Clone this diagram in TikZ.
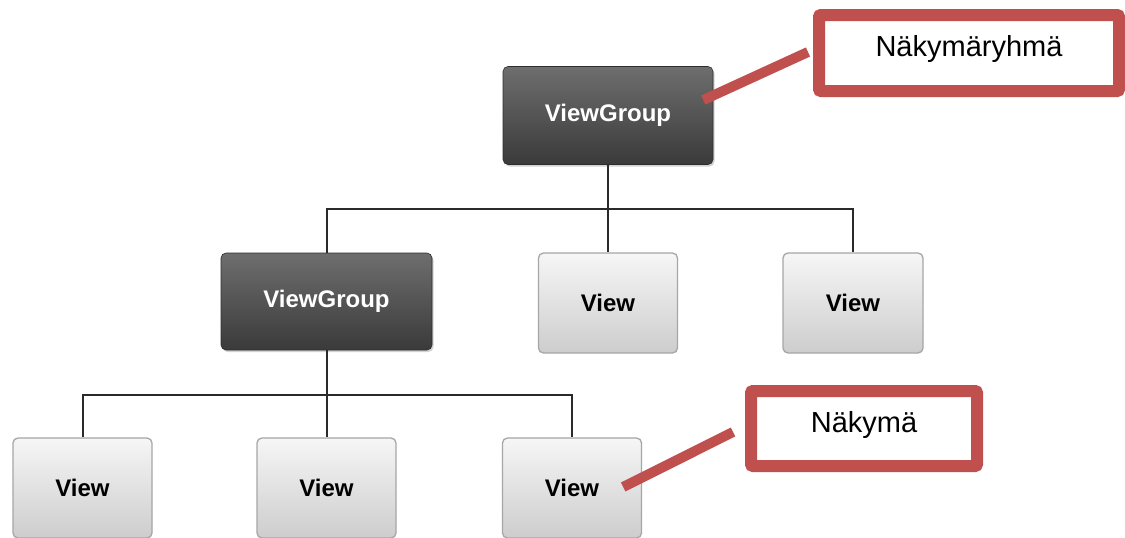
\documentclass[tikz,border=0pt]{standalone}
\usepackage{fontspec}
\setmainfont{Liberation Sans}
\usetikzlibrary{shadows}
\definecolor{labred}{HTML}{C0504D}
\definecolor{dtop}{HTML}{6E6E6E}
\definecolor{dbot}{HTML}{3A3A3A}
\definecolor{ltop}{HTML}{F6F6F6}
\definecolor{lbot}{HTML}{CDCDCD}
\definecolor{lborder}{HTML}{A6A6A6}
\definecolor{conn}{HTML}{2A2A2A}
\tikzset{
  groupbox/.style={rectangle, rounded corners=5pt, top color=dtop, bottom color=dbot,
    draw=dbot!80!black, line width=0.6pt, text=white,
    font=\bfseries\fontsize{24}{28}\selectfont,
    drop shadow={shadow xshift=1.5pt, shadow yshift=-2pt, opacity=0.35},
    minimum width=210pt, minimum height=98pt, inner sep=0pt},
  viewbox/.style={rectangle, rounded corners=5pt, top color=ltop, bottom color=lbot,
    draw=lborder, line width=1.3pt, text=black,
    font=\bfseries\fontsize{24}{28}\selectfont,
    minimum width=139pt, minimum height=100pt, inner sep=0pt},
  labelbox/.style={rectangle, rounded corners=2pt, draw=labred, line width=12pt,
    fill=white, text=black, font=\fontsize{29}{34}\selectfont, inner sep=0pt},
  tree/.style={draw=conn, line width=2pt},
  redline/.style={draw=labred, line width=10pt}
}
\begin{document}
\begin{tikzpicture}[x=1pt,y=-1pt]
\useasboundingbox (0,0) rectangle (1125,538);
\clip (0,0) rectangle (1125,538);
\fill[white] (0,0) rectangle (1125,538);

% nodes
\node[groupbox] (tvg) at (608,115.5) {ViewGroup};
\node[groupbox, minimum width=211pt, minimum height=97pt] (vg2) at (326.5,301.5) {ViewGroup};
\node[viewbox] (v1) at (608,303) {View};
\node[viewbox, minimum width=140pt] (v2) at (853,303) {View};
\node[viewbox] (b1) at (82.5,488) {View};
\node[viewbox] (b2) at (326.5,488) {View};
\node[viewbox] (b3) at (572,488) {View};

\node[labelbox, minimum width=300pt, minimum height=76pt] (lab1) at (969,53) {};
\node at (969,49) [font=\fontsize{29}{34}\selectfont] (lab1t) {Näkymäryhmä};
\node[labelbox, minimum width=226pt, minimum height=75pt] (lab2) at (864,428.5) {};
\node at (864,425) [font=\fontsize{29}{34}\selectfont] (lab2t) {Näkymä};

% tree connectors
\coordinate (j1) at (608,209);
\draw[tree] (tvg.south) -- (j1);
\draw[tree] (vg2.north) |- (j1) -| (v2.north);
\draw[tree] (j1) -- (v1.north);

\coordinate (j2) at (326.5,395);
\draw[tree] (vg2.south) -- (j2);
\draw[tree] (b1.north) |- (j2) -| (b3.north);
\draw[tree] (j2) -- (b2.north);

% red callout lines
\draw[redline] ([xshift=-10pt,yshift=15.5pt]tvg.east) -- ([xshift=-5pt,yshift=1pt]lab1.west);
\draw[redline] ([xshift=-19pt,yshift=1pt]b3.east) -- ([xshift=-12pt,yshift=-3.5pt]lab2.west);
\end{tikzpicture}
\end{document}
